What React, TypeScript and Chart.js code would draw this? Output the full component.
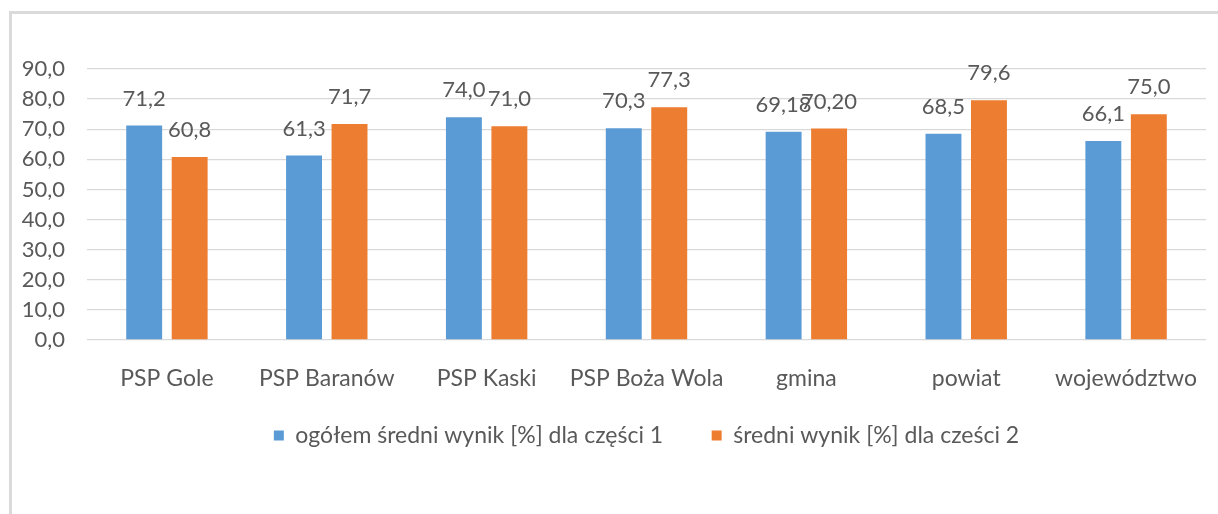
import React, { useEffect, useRef } from "react";
import { Chart, registerables } from "chart.js";

Chart.register(...registerables);

const categories = ["PSP Gole", "PSP Baranów", "PSP Kaski", "PSP Boża Wola", "gmina", "powiat", "województwo"];
const part1Values = [71.2, 61.3, 74.0, 70.3, 69.18, 68.5, 66.1];
const part2Values = [60.8, 71.7, 71.0, 77.3, 70.2, 79.6, 75.0];
const labelDecimals = [1, 1, 1, 1, 2, 1, 1];
const seriesNames = ["ogółem średni wynik [%] dla części 1", "średni wynik [%] dla cześci 2"];
const yTicks = [0, 10, 20, 30, 40, 50, 60, 70, 80, 90];

const FONT = "Lato, 'Liberation Sans', sans-serif";
const TEXT = "#595959";

const fmt = (v: number, d: number) => v.toFixed(d).replace(".", ",");

const dataLabelPlugin = {
  id: "dataLabels",
  afterDatasetsDraw(chart: any) {
    const ctx = chart.ctx;
    ctx.save();
    ctx.font = `22px ${FONT}`;
    ctx.fillStyle = TEXT;
    ctx.textAlign = "center";
    ctx.textBaseline = "middle";
    chart.data.datasets.forEach((ds: any, di: number) => {
      const meta = chart.getDatasetMeta(di);
      meta.data.forEach((el: any, i: number) => {
        ctx.fillText(fmt(ds.data[i], labelDecimals[i]), el.x, el.y - 27);
      });
    });
    ctx.restore();
  },
};

export default function App() {
  const ref = useRef<HTMLCanvasElement>(null);
  useEffect(() => {
    document.body.style.margin = "0";
    const chart = new Chart(ref.current!, {
      type: "bar",
      data: {
        labels: categories,
        datasets: [
          { label: seriesNames[0], data: part1Values, backgroundColor: "#5B9BD5", categoryPercentage: 0.569, barPercentage: 0.79 },
          { label: seriesNames[1], data: part2Values, backgroundColor: "#ED7D31", categoryPercentage: 0.569, barPercentage: 0.79 },
        ],
      },
      options: {
        responsive: false,
        animation: false,
        layout: { padding: { top: 69, right: 12, left: 0, bottom: 57 } },
        plugins: {
          tooltip: { enabled: false },
          legend: {
            position: "bottom",
            fullSize: false,
            labels: {
              boxWidth: 10,
              boxHeight: 10,
              padding: 14,
              color: TEXT,
              font: { family: FONT, size: 23 },
              generateLabels: (c: any) => {
                const items = Chart.defaults.plugins.legend.labels.generateLabels(c);
                items.forEach((it: any, i: number) => {
                  if (i < items.length - 1) it.text = it.text + "\u2002\u2002\u2002";
                });
                return items;
              },
            },
          },
        },
        scales: {
          x: {
            grid: { display: false },
            border: { display: false },
            ticks: { color: TEXT, font: { family: FONT, size: 23 }, padding: 17, maxRotation: 0, autoSkip: false },
            afterFit: (s: any) => { s.height = 70; },
          },
          y: {
            min: 0,
            max: 90,
            afterBuildTicks: (s: any) => { s.ticks = yTicks.map((v) => ({ value: v })); },
            grid: { color: "#D9D9D9", lineWidth: 1.3, drawTicks: false },
            border: { display: false },
            ticks: { color: TEXT, font: { family: FONT, size: 22 }, padding: 22, callback: (v: any) => fmt(Number(v), 1) },
            afterFit: (s: any) => { s.width = 87; },
          },
        },
      },
      plugins: [dataLabelPlugin],
    });
    return () => chart.destroy();
  }, []);
  return (
    <div style={{ position: "relative", width: 1218, height: 514, overflow: "hidden", background: "#fff" }}>
      <div style={{ position: "absolute", left: 9, top: 11, right: -10, bottom: -10, borderLeft: "3px solid #DADADA", borderTop: "3px solid #DADADA" }} />
      <canvas ref={ref} width={1218} height={514} style={{ position: "absolute", left: 0, top: 0 }} />
    </div>
  );
}
